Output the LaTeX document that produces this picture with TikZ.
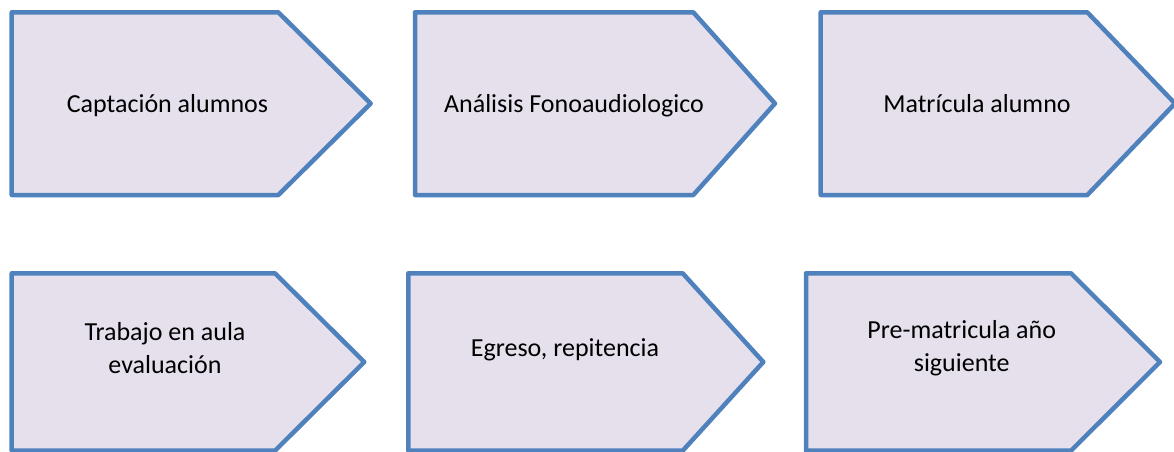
\documentclass[tikz,border=0pt]{standalone}
\usepackage{fontspec}
\setmainfont{Carlito}
\definecolor{boxfill}{HTML}{E5E0EC}
\definecolor{boxline}{HTML}{4F81BD}
\begin{document}
\begin{tikzpicture}[x=1pt,y=-1pt,
  pent/.style={fill=boxfill,draw=boxline,line width=4.5pt,line join=round},
  lbl/.style={inner sep=0pt,font=\fontsize{26}{32.7}\selectfont,align=center}]
\useasboundingbox (0,0) rectangle (1174,451);
\clip (0,0) rectangle (1174,451);
% row 1
\draw[pent] (11.7,12.3) -- (278.3,12.3) -- (370.7,103.5) -- (278.3,195) -- (11.7,195) -- cycle;
\draw[pent] (415,12.3) -- (693.3,12.3) -- (775,103.5) -- (693.3,195) -- (415,195) -- cycle;
\draw[pent] (820.7,12.3) -- (1087.3,12.3) -- (1175,103.5) -- (1087.3,195) -- (820.7,195) -- cycle;
% row 2
\draw[pent] (11.7,273.3) -- (275,273.3) -- (364.3,362) -- (275,450.7) -- (11.7,450.7) -- cycle;
\draw[pent] (408.3,273.3) -- (682.7,273.3) -- (763.3,362) -- (682.7,450.7) -- (408.3,450.7) -- cycle;
\draw[pent] (806,273.3) -- (1071,273.3) -- (1160,362) -- (1071,450.7) -- (806,450.7) -- cycle;
% labels
\node[lbl,anchor=base] (t1) at (167.5,112.7) {Captación alumnos};
\node[lbl,anchor=base] (t2) at (574,112.7) {Análisis Fonoaudiologico};
\node[lbl,anchor=base] (t3) at (977,112.7) {Matrícula alumno};
\node[lbl] (t4) at (165,348) {Trabajo en aula\\evaluación};
\node[lbl,anchor=base] (t5) at (565,356.7) {Egreso, repitencia};
\node[lbl] (t6) at (961.7,348) {Pre-matricula año\\siguiente};
\end{tikzpicture}
\end{document}
